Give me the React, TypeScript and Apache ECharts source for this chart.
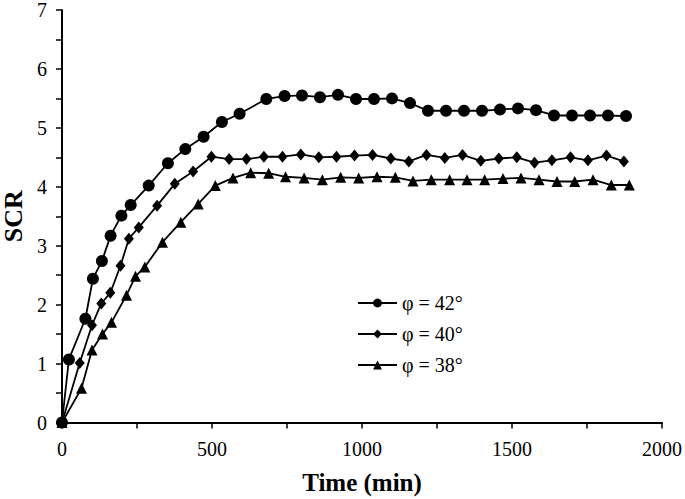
import React, { useEffect, useRef } from "react";
import * as echarts from "echarts";

const seriesNames = ["φ = 42°", "φ = 40°", "φ = 38°"];

const time42 = [0, 23, 78, 103, 133, 162, 198, 229, 289, 353, 411, 472, 533, 592, 681, 742, 800, 860, 920, 980, 1040, 1100, 1160, 1220, 1280, 1340, 1400, 1460, 1520, 1580, 1640, 1700, 1760, 1820, 1880];
const scr42 = [0, 1.07, 1.76, 2.44, 2.74, 3.17, 3.51, 3.69, 4.02, 4.40, 4.64, 4.85, 5.10, 5.24, 5.49, 5.54, 5.55, 5.52, 5.56, 5.49, 5.49, 5.50, 5.42, 5.29, 5.29, 5.29, 5.29, 5.31, 5.33, 5.30, 5.21, 5.21, 5.21, 5.21, 5.20];

const time40 = [0, 59, 100, 131, 161, 195, 223, 256, 317, 376, 437, 498, 557, 615, 673, 735, 796, 856, 915, 975, 1035, 1096, 1156, 1215, 1276, 1335, 1396, 1456, 1516, 1575, 1633, 1695, 1753, 1815, 1873];
const scr40 = [0, 1.01, 1.65, 2.02, 2.20, 2.66, 3.12, 3.31, 3.68, 4.05, 4.26, 4.51, 4.47, 4.47, 4.51, 4.51, 4.55, 4.50, 4.51, 4.53, 4.54, 4.48, 4.43, 4.54, 4.49, 4.54, 4.44, 4.48, 4.50, 4.41, 4.45, 4.50, 4.45, 4.53, 4.43];

const time38 = [0, 65, 100, 135, 165, 215, 245, 276, 335, 396, 454, 511, 570, 629, 689, 745, 807, 868, 929, 989, 1050, 1111, 1170, 1231, 1292, 1350, 1409, 1470, 1530, 1590, 1650, 1709, 1770, 1831, 1891];
const scr38 = [0, 0.58, 1.23, 1.50, 1.70, 2.16, 2.48, 2.64, 3.06, 3.40, 3.71, 4.02, 4.15, 4.24, 4.23, 4.17, 4.15, 4.12, 4.16, 4.15, 4.17, 4.16, 4.10, 4.12, 4.12, 4.12, 4.12, 4.14, 4.15, 4.12, 4.09, 4.09, 4.12, 4.03, 4.03];

const xTicks = { min: 0, max: 2000, interval: 500 };
const yTicks = { min: 0, max: 7, interval: 1 };

const zip = (xs: number[], ys: number[]) => xs.map((x, i) => [x, ys[i]]);

const SERIF = "'Liberation Serif', 'Times New Roman', serif";

export default function App() {
  const ref = useRef<HTMLDivElement>(null);
  useEffect(() => {
    if (!ref.current) return;
    const chart = echarts.init(ref.current, null, { renderer: "svg" });
    const axisCommon = {
      axisLine: { show: true, lineStyle: { color: "#000", width: 2 } },
      axisTick: { show: true, inside: false, length: 6, lineStyle: { color: "#000", width: 1.5 } },
      minorTick: { show: true, splitNumber: 2, length: 6, lineStyle: { color: "#000", width: 1.5 } },
      splitLine: { show: false },
      axisLabel: { color: "#000", fontSize: 20, fontFamily: SERIF, formatter: (v: number) => String(v) },
    };
    const lineSeries = (name: string, data: number[][], symbol: string, size: number | number[]) => ({
      name,
      type: "line",
      data,
      symbol,
      symbolSize: size,
      showSymbol: true,
      lineStyle: { color: "#000", width: 1.8 },
      itemStyle: { color: "#000" },
      emphasis: { disabled: true },
    });
    chart.setOption({
      animation: false,
      backgroundColor: "#fff",
      grid: { left: 62, right: 23, top: 10, bottom: 76.5, containLabel: false, outerBoundsMode: "none" },
      xAxis: {
        type: "value",
        ...xTicks,
        ...axisCommon,
        axisLabel: { ...axisCommon.axisLabel, margin: 16 },
        name: "Time (min)",
        nameLocation: "middle",
        nameGap: 47,
        nameTextStyle: { color: "#000", fontSize: 25, fontWeight: "bold", fontFamily: SERIF },
      },
      yAxis: {
        type: "value",
        ...yTicks,
        ...axisCommon,
        axisLabel: { ...axisCommon.axisLabel, margin: 15 },
        name: "SCR",
        nameLocation: "middle",
        nameGap: 32,
        nameTextStyle: { color: "#000", fontSize: 26, fontWeight: "bold", fontFamily: SERIF },
      },
      legend: {
        orient: "vertical",
        left: 352,
        top: 288,
        itemWidth: 39,
        itemHeight: 11,
        itemGap: 11,
        textStyle: { color: "#000", fontSize: 20, fontFamily: SERIF, lineHeight: 20 },
        data: seriesNames,
      },
      series: [
        lineSeries(seriesNames[0], zip(time42, scr42), "circle", 12),
        lineSeries(seriesNames[1], zip(time40, scr40), "diamond", [10, 12]),
        lineSeries(seriesNames[2], zip(time38, scr38), "triangle", 11),
      ],
    });
    return () => chart.dispose();
  }, []);
  return <div ref={ref} style={{ position: "fixed", left: 0, top: 0, width: 685, height: 499 }} />;
}
